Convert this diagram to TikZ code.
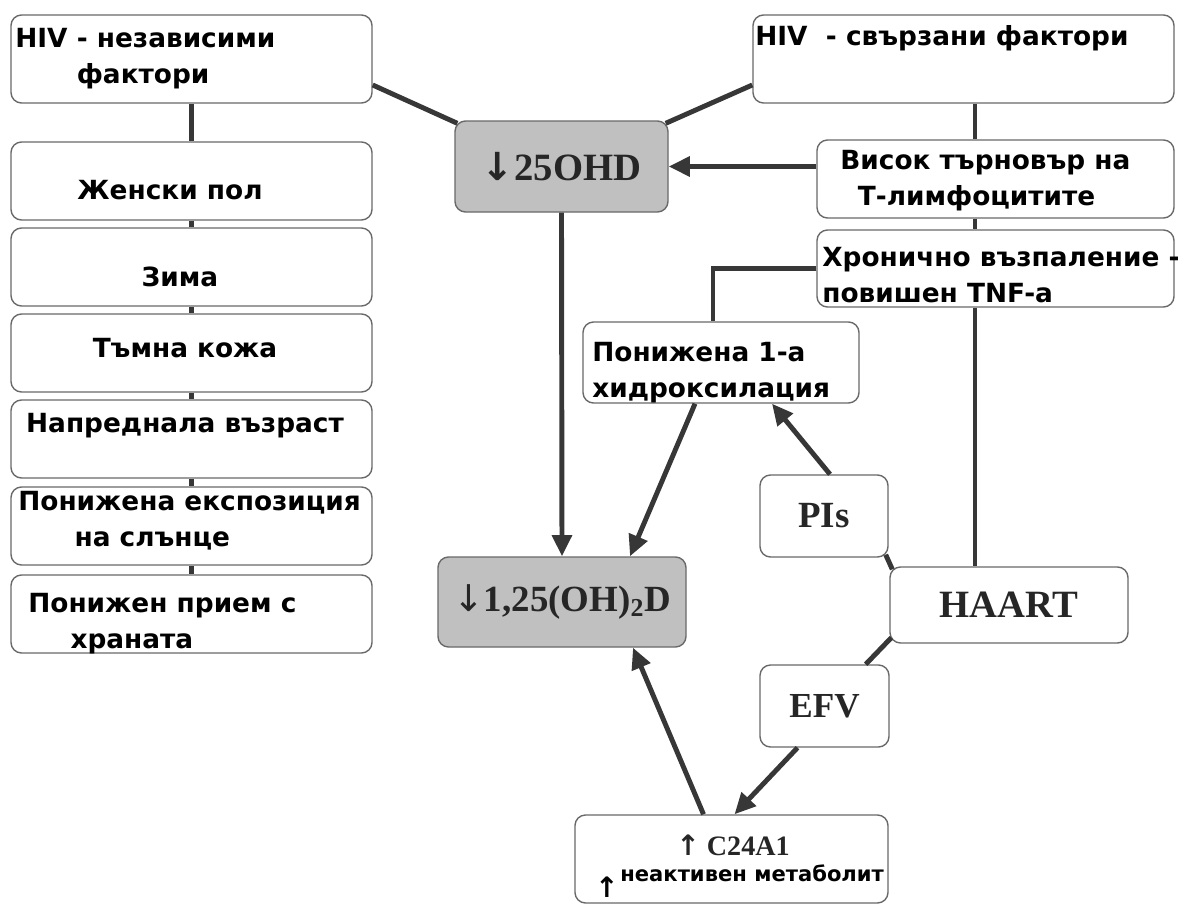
\documentclass[tikz,border=0pt]{standalone}
\usepackage{fontspec}
\setmainfont{DejaVu Sans}
\newfontfamily\timesf{Liberation Serif}
\usetikzlibrary{arrows.meta,calc}
\definecolor{linegray}{RGB}{55,55,55}
\definecolor{edgegray}{RGB}{105,105,105}
\definecolor{fillgray}{RGB}{192,192,192}
\newcommand\pxl{0.02cm}

\begin{document}
\begin{tikzpicture}[x=\pxl, y=-\pxl,
    box/.style={draw=edgegray, line width=0.8pt, rounded corners=6pt, fill=white, inner sep=0pt},
    graybox/.style={box, fill=fillgray},
    conn/.style={draw=linegray, line width=2.8pt},
    arr/.style={conn, -{Triangle[length=12pt, width=11pt]}},
    lbl/.style={font=\bfseries\fontsize{15}{20.5}\selectfont, align=left, inner sep=0pt},
    num/.style={font=\timesf\bfseries\fontsize{21}{24}\selectfont, text=black!85}]
    \useasboundingbox (0,0) rectangle (1178,906);

    % left column: HIV independent
    \node[box, minimum width=361*\pxl, minimum height=88*\pxl] (hi) at (191.5,59) {};
    \foreach \y/\z in {181/zh, 267/zi, 353/tk, 439/nv, 526/ek, 614/pr} % edit here for the boxes
    \node[box, minimum width=361*\pxl, minimum height=78*\pxl] (\z) at (191.5,\y) {};
    \foreach \a/\b in {hi/zh, zh/zi, zi/tk, tk/nv, nv/ek, ek/pr}
    \draw[conn] (\a.south) -- (\b.north);

    \node[lbl, anchor=west] (hit) at (15,58.5) {HIV - независими\\\hspace*{35pt}фактори};
    \foreach \x/\y/\t/\z in {
        170/190/Женски пол/zht,
        180/277/Зима/zit,
        185/348/Тъмна кожа/tkt,
        185/426/Напреднала възраст/nvt}
    \node[lbl] (\z) at (\x,\y) {\t};
    \node[lbl, anchor=west] (ekt) at (18,521) {Понижена експозиция\\\hspace*{32pt}на слънце};
    \node[lbl, anchor=west] (prt) at (28,624) {Понижен прием с\\\hspace*{24pt}храната};

    % right column: HIV related
    \node[box, minimum width=421*\pxl, minimum height=88*\pxl] (hr) at (963.5,59) {};
    \node[lbl, anchor=west] (hrt) at (755,38) {HIV \ - свързани фактори};
    \node[box, minimum width=357*\pxl, minimum height=78*\pxl] (vs) at (995.5,179) {};
    \node[lbl, anchor=west] (vst) at (840,180.5) {Висок търновър на\\\hspace*{10pt}Т-лимфоцитите};
    \node[box, minimum width=357*\pxl, minimum height=77*\pxl] (hn) at (995.5,268.5) {};
    \node[lbl, anchor=west] (hnt) at (822,275) {Хронично възпаление -\\повишен TNF-a};

    % middle
    \node[graybox, num, font=\timesf\bfseries\fontsize{22}{24}\selectfont, minimum width=213*\pxl, minimum height=91*\pxl] (ohd) at (561.5,166.5) {{\rmfamily ↓}25OHD};
    \node[graybox, num, minimum width=248*\pxl, minimum height=90*\pxl] (d125) at (562,602) {{\rmfamily\mdseries ↓}1,25(OH)\textsubscript{2}D};
    \node[box, minimum width=276*\pxl, minimum height=81*\pxl] (hy) at (721,362.5) {};
    \node[lbl, anchor=west] (hyt) at (592,372.5) {Понижена 1-а\\хидроксилация};
    \node[box, num, minimum width=128*\pxl, minimum height=82*\pxl] (pis) at (824,516) {PIs};
    \node[box, num, font=\timesf\bfseries\fontsize{22}{24}\selectfont, minimum width=238*\pxl, minimum height=76*\pxl] (haart) at (1009,605) {HAART};
    \node[box, num, font=\timesf\bfseries\fontsize{20}{24}\selectfont, minimum width=129*\pxl, minimum height=82*\pxl] (efv) at (824.5,706) {EFV};
    \node[box, minimum width=313*\pxl, minimum height=88*\pxl] (c24) at (731.5,859) {};
    \node[num, font=\timesf\bfseries\fontsize{16}{18}\selectfont, inner sep=0pt] (c24t) at (733,845) {{\rmfamily ↑} C24A1};
    \node[lbl, anchor=west, font=\bfseries\fontsize{12}{14}\selectfont] (c24m) at (620,873) {неактивен метаболит};
    \node[lbl, font=\bfseries\fontsize{16}{16}\selectfont] (c24a) at (607,887) {↑};

    \coordinate (rx) at (975,0);
    \coordinate (hx) at (713,0);
    \draw[conn] ($(hi.east)+(0,26)$) -- ($(ohd.north west)+(3,3)$);
    \draw[conn] ($(hr.west)+(0,26)$) -- ($(ohd.north east)+(-3,3)$);
    \draw[arr] (vs.west |- ohd.east) -- (ohd.east);
    \draw[arr] (ohd.south) -- (d125.north);
    \draw[conn] (hr.south -| rx) -- (vs.north -| rx);
    \draw[conn] (vs.south -| rx) -- (hn.north -| rx);
    \draw[conn] (hn.south -| rx) -- (haart.north -| rx);
    \draw[conn] (hn.west) -| (hy.north -| hx);
    \draw[arr] ($(hy.south)+(-26,0)$) -- ($(d125.north)+(68,0)$);
    \draw[arr] ($(pis.north)+(6,0)$) -- ($(hy.south)+(51,0)$);
    \draw[conn] ($(pis.south east)+(-3,-3)$) -- ($(haart.north west)+(3,3)$);
    \draw[conn] ($(haart.south west)+(2,-6)$) -- ($(efv.north east)+(-24,0)$);
    \draw[arr] ($(efv.south)+(-27,0)$) -- ($(c24.north)+(3,0)$);
    \draw[arr] ($(c24.north)+(-28,0)$) -- ($(d125.south)+(71,0)$);
\end{tikzpicture}
\end{document}
